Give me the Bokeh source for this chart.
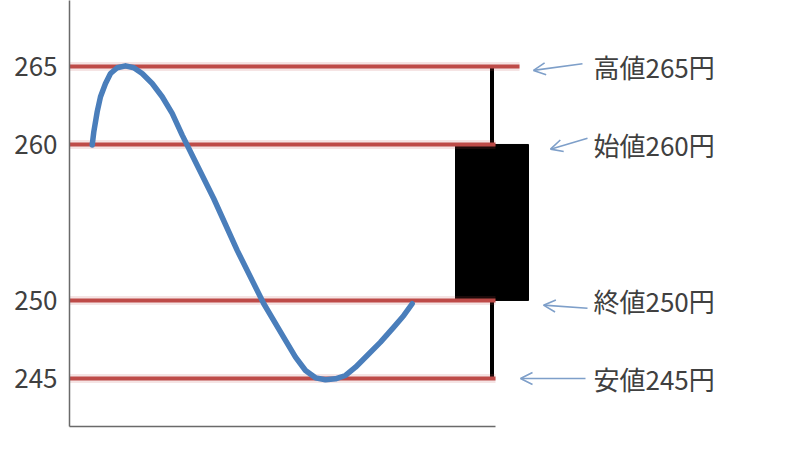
from bokeh.plotting import figure
from bokeh.models import Range1d, FixedTicker, LinearAxis, Arrow, OpenHead, ColumnDataSource
from bokeh.core.properties import value
from bokeh.embed import file_html
from bokeh.resources import INLINE

# ---- data ----
# price path (time index, price)
path_t = [2.27, 2.43, 2.77, 3.1, 3.6, 4.1, 4.77, 5.6, 6.43, 7.27, 8.27, 9.27, 10.27,
          11.27, 12.27, 14.43, 16.77, 19.43, 21.6, 22.6, 23.6, 24.6, 25.6, 26.6,
          27.6, 28.6, 29.77, 31.1, 32.43, 33.43, 34.27]
path_price = [259.96, 260.81, 262.10, 263.06, 263.91, 264.55, 264.92, 265.04, 264.92,
              264.55, 263.91, 263.06, 261.99, 260.60, 259.31, 256.52, 253.21, 249.79,
              247.44, 246.37, 245.51, 245.04, 244.92, 244.98, 245.19, 245.72, 246.47,
              247.33, 248.29, 249.04, 249.79]

# candle (OHLC)
candle_t = 42.25
candle_width = 7.3
open_price = 260
high_price = 265
low_price = 245
close_price = 250

# price levels and their names
level_names = ["高値", "始値", "終値", "安値"]
level_values = [high_price, open_price, close_price, low_price]
level_line_end = [45.0, 42.6, 42.6, 42.6]
y_ticks = [245, 250, 260, 265]

FONT = "Noto Sans CJK JP"
RED = "#BE4B48"
BLUE = "#4A7EBB"
ARROW = "#7E9FC9"
TXT = "#404040"

p = figure(width=792, height=450, output_backend="svg", toolbar_location=None,
           x_range=Range1d(0, 72.3), y_range=Range1d(241.92, 269.23),
           x_axis_location=None, y_axis_location=None,
           min_border_left=69, min_border_right=0, min_border_top=0, min_border_bottom=24)
p.outline_line_color = None
p.xgrid.visible = False
p.ygrid.visible = False
p.background_fill_color = "white"
p.border_fill_color = "white"

yaxis = LinearAxis(ticker=FixedTicker(ticks=y_ticks))
yaxis.axis_line_color = "#6a6a6a"
yaxis.axis_line_width = 1.5
yaxis.major_tick_line_color = None
yaxis.minor_tick_line_color = None
yaxis.major_label_standoff = 6
yaxis.major_label_text_font = FONT
yaxis.major_label_text_font_size = "26px"
yaxis.major_label_text_color = TXT
p.add_layout(yaxis, "left")

xaxis = LinearAxis(bounds=(0, 42.6), ticker=FixedTicker(ticks=[]))
xaxis.axis_line_color = "#6a6a6a"
xaxis.axis_line_width = 1.5
xaxis.major_tick_line_color = None
xaxis.minor_tick_line_color = None
xaxis.major_label_text_font_size = "0px"
p.add_layout(xaxis, "below")

# candle body and wicks
p.segment(x0=[candle_t, candle_t], y0=[high_price, close_price],
          x1=[candle_t, candle_t], y1=[open_price, low_price],
          line_color="black", line_width=4)
p.vbar(x=candle_t, width=candle_width, top=open_price, bottom=close_price,
       fill_color="black", line_color="black")

# red level lines (soft shadow + line)
lv = ColumnDataSource(dict(x0=[0] * 4, x1=level_line_end, y=level_values))
p.segment(x0="x0", y0="y", x1="x1", y1="y", source=lv,
          line_color=RED, line_width=9, line_alpha=0.15)
p.segment(x0="x0", y0="y", x1="x1", y1="y", source=lv,
          line_color=RED, line_width=4)

# price path
p.line(path_t, path_price, line_color=BLUE, line_width=5.5,
       line_join="round", line_cap="round")

# arrows and labels
arrow_tail_x = [51.3, 51.8, 51.8, 51.6]
arrow_head_x = [46.4, 48.1, 47.4, 45.1]
arrow_tail_dy = [0.17, 0.4, -0.5, 0.0]
arrow_head_dy = [-0.25, -0.3, -0.3, 0.0]
for v, tx, hx, tdy, hdy in zip(level_values, arrow_tail_x, arrow_head_x,
                               arrow_tail_dy, arrow_head_dy):
    p.add_layout(Arrow(x_start=tx, y_start=v + tdy, x_end=hx, y_end=v + hdy,
                       line_color=ARROW, line_width=1.6,
                       end=OpenHead(size=12, line_color=ARROW, line_width=1.6)))

labels = [f"{n}{v}円" for n, v in zip(level_names, level_values)]
p.text(x=[52.4] * 4, y=level_values, text=labels,
       text_font=value(FONT), text_font_size="26px", text_color=TXT,
       text_align="left", text_baseline="middle")

open("out.html", "w").write(file_html(p, INLINE))
